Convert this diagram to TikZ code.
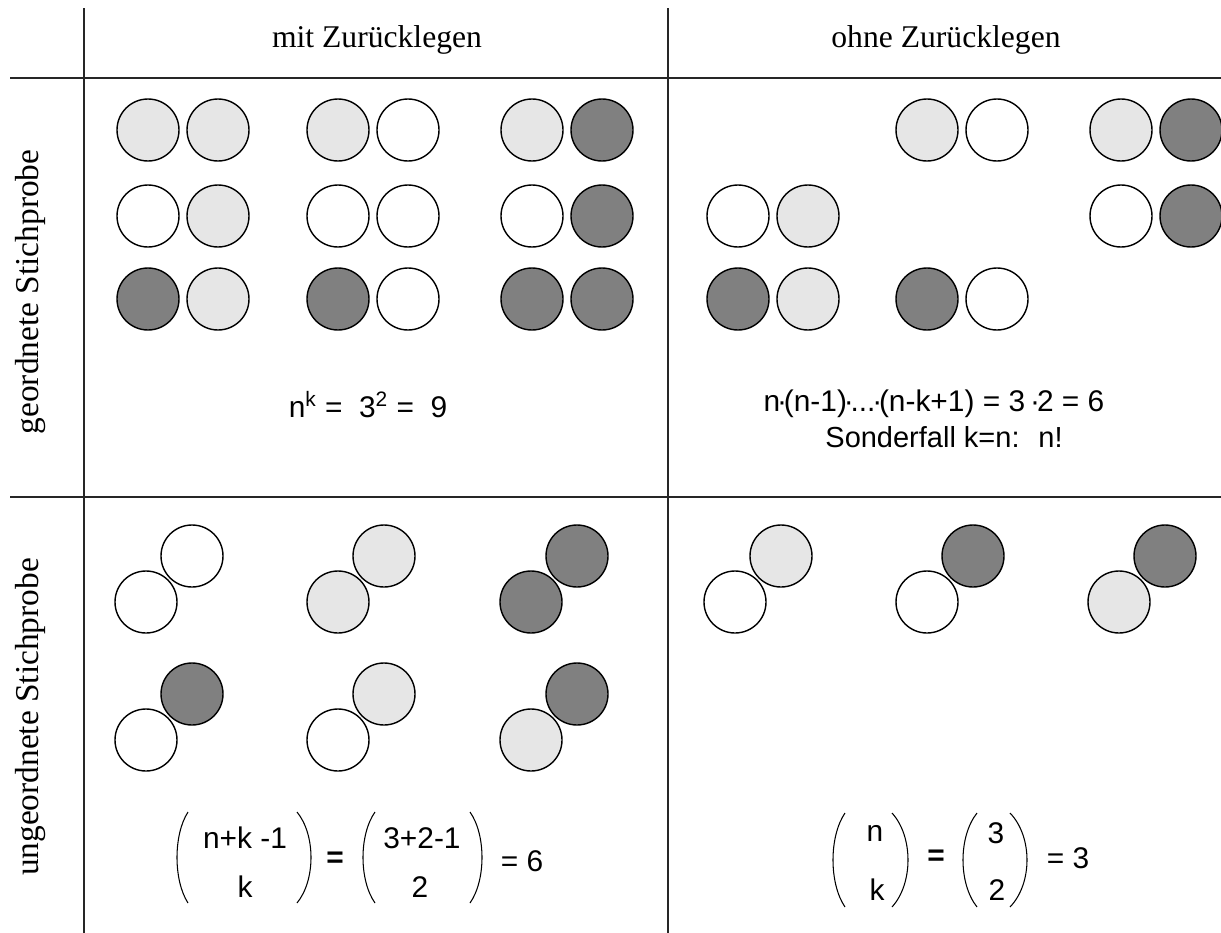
\documentclass[tikz,border=0pt]{standalone}
\usepackage{fontspec}
\setmainfont{Liberation Serif}
\newfontfamily\formelfont{Liberation Sans}
\definecolor{kugelhell}{HTML}{E6E6E6}
\definecolor{kugeldunkel}{HTML}{808080}
\definecolor{linie}{HTML}{262626}
% Kugelpaar nebeneinander / schraeg uebereinander
\newcommand{\kpaar}[4]{%
  \draw[#3] (#1,#2) circle (31);
  \draw[#4] (#1+70,#2) circle (31);}
\newcommand{\kstapel}[4]{%
  \draw[#3] (#1,#2) circle (31);
  \draw[#4] (#1+46,#2-46) circle (31);}
% grosse runde Klammer: Enden bei x=#1, Mitte bei x=#2
\newcommand{\bklammer}[4]{%
  \draw[klammer] (#1,#3) .. controls ({(4*#2-#1)/3},{#3+0.25*(#4-#3)})
    and ({(4*#2-#1)/3},{#4-0.25*(#4-#3)}) .. (#1,#4);}
% enger Malpunkt
\newcommand{\mpkt}{\makebox[0.12em]{·}}
\begin{document}
\begin{tikzpicture}[x=0.02cm,y=-0.02cm,
  kugel/.style={draw=black,line width=0.8pt},
  hell/.style={kugel,fill=kugelhell},
  weiss/.style={kugel,fill=white},
  dunkel/.style={kugel,fill=kugeldunkel},
  gitter/.style={draw=linie,line width=1.1pt},
  kopf/.style={font=\fontsize{18}{22}\selectfont},
  seite/.style={font=\fontsize{19}{23}\selectfont,rotate=90},
  formel/.style={font=\formelfont\fontsize{17}{20}\selectfont},
  gleich/.style={font=\formelfont\bfseries\fontsize{17}{20}\selectfont},
  klammer/.style={draw=black,line width=0.6pt}]
\useasboundingbox (0,0) rectangle (1221,933);
% Tabellengitter
\draw[gitter] (84,8) -- (84,933);
\draw[gitter] (668,8) -- (668,933);
\draw[gitter] (10,78) -- (1221,78);
\draw[gitter] (10,497) -- (1221,497);
% Kopfzeile und Zeilenbeschriftung
\node[kopf] (mitZ) at (377,40) {mit Zurücklegen};
\node[kopf] (ohneZ) at (946,40) {ohne Zurücklegen};
\node[seite] (geo) at (31,292) {geordnete Stichprobe};
\node[seite] (ungeo) at (31,717) {ungeordnete Stichprobe};
% geordnet, mit Zuruecklegen
\kpaar{148}{130}{hell}{hell}
\kpaar{338}{130}{hell}{weiss}
\kpaar{532}{130}{hell}{dunkel}
\kpaar{148}{216}{weiss}{hell}
\kpaar{338}{216}{weiss}{weiss}
\kpaar{532}{216}{weiss}{dunkel}
\kpaar{148}{299}{dunkel}{hell}
\kpaar{338}{299}{dunkel}{weiss}
\kpaar{532}{299}{dunkel}{dunkel}
\node[formel] (fA) at (368,405) {n\textsuperscript{k} = \ 3\textsuperscript{2} = \ 9};
% geordnet, ohne Zuruecklegen
\kpaar{927}{130}{hell}{weiss}
\kpaar{1121}{130}{hell}{dunkel}
\kpaar{738}{216}{weiss}{hell}
\kpaar{1121}{216}{weiss}{dunkel}
\kpaar{738}{299}{dunkel}{hell}
\kpaar{927}{299}{dunkel}{weiss}
\node[formel] (fB) at (934,404) {n\mpkt(n-1)\mpkt...\mpkt(n-k+1) = 3 \mpkt2 = 6};
\node[formel,font=\formelfont\fontsize{16.5}{20}\selectfont] (sonder) at (944,437) {Sonderfall k=n: \ n!};
% ungeordnet, mit Zuruecklegen
\kstapel{146}{602}{weiss}{weiss}
\kstapel{338}{602}{hell}{hell}
\kstapel{531}{602}{dunkel}{dunkel}
\kstapel{146}{740}{weiss}{dunkel}
\kstapel{338}{740}{weiss}{hell}
\kstapel{531}{740}{hell}{dunkel}
\bklammer{188}{177}{812}{903}
\bklammer{297}{311}{812}{903}
\node[formel] (bAo) at (245,838) {n+k -1};
\node[formel] (bAu) at (245,887) {k};
\node[gleich] (glA) at (335,860) {=};
\bklammer{375}{363}{812}{903}
\bklammer{470}{482}{812}{903}
\node[formel] (bBo) at (422,838) {3+2-1};
\node[formel] (bBu) at (420,887) {2};
\node[formel] (erA) at (522,861) {= 6};
% ungeordnet, ohne Zuruecklegen
\kstapel{735}{602}{weiss}{hell}
\kstapel{927}{602}{weiss}{dunkel}
\kstapel{1119}{602}{hell}{dunkel}
\bklammer{845}{833}{813}{907}
\bklammer{892}{908}{813}{907}
\node[formel] (bCo) at (875,833) {n};
\node[formel] (bCu) at (877,890) {k};
\node[gleich] (glB) at (936,858) {=};
\bklammer{977}{963}{813}{907}
\bklammer{1010}{1027}{813}{907}
\node[formel] (bDo) at (996,833) {3};
\node[formel] (bDu) at (997,890) {2};
\node[formel] (erB) at (1068,858) {= 3};
\end{tikzpicture}
\end{document}
